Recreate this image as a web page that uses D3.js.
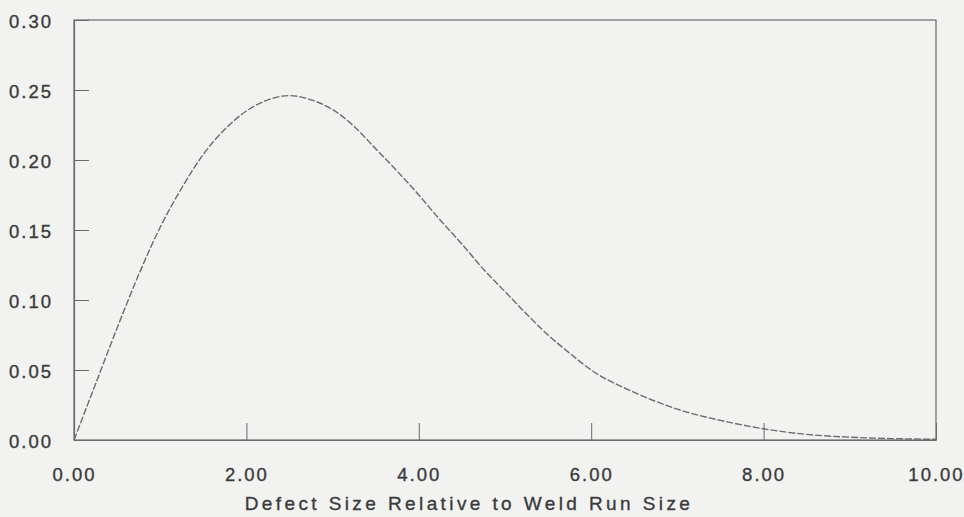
<!DOCTYPE html>
<html>
<head>
<meta charset="utf-8">
<script src="https://cdn.jsdelivr.net/npm/d3@7"></script>
<style>
  html, body { margin: 0; padding: 0; background: #f2f2f1; }
  svg { display: block; }
  text { font-family: "Liberation Sans", Arial, sans-serif; fill: #3b3b3b; stroke: #3b3b3b; stroke-width: 0.35px; }
</style>
</head>
<body>
<div id="chart"></div>
<script>
// defect size (relative to weld run size) vs probability density
const sizeValues = [0, 0.25, 0.5, 0.75, 1.0, 1.25, 1.5, 1.75, 2.0, 2.25, 2.5, 2.75, 3.0, 3.25, 3.5, 3.75,
  4.0, 4.25, 4.5, 4.75, 5.0, 5.25, 5.5, 5.75, 6.0, 6.5, 7.0, 7.5, 8.0, 8.5, 9.0, 9.5, 10.0];
const densityValues = [0, 0.04, 0.08, 0.118, 0.152, 0.18, 0.204, 0.222, 0.235, 0.243, 0.246, 0.243, 0.236, 0.224, 0.208, 0.192,
  0.175, 0.157, 0.140, 0.122, 0.106, 0.090, 0.075, 0.062, 0.050, 0.034, 0.022, 0.014, 0.008, 0.004, 0.002, 0.001, 0.0005];
const xTicks = [0, 2, 4, 6, 8, 10];
const yTicks = [0, 0.05, 0.10, 0.15, 0.20, 0.25, 0.30];
const xTitle = "Defect Size Relative to Weld Run Size";

const width = 964;
const height = 517;
const margin = { top: 20, right: 28, bottom: 77, left: 74 };

const svg = d3.select("#chart")
  .append("svg")
  .attr("width", width)
  .attr("height", height);

const x = d3.scaleLinear().domain([0, 10]).range([margin.left, width - margin.right]);
const y = d3.scaleLinear().domain([0, 0.3]).range([height - margin.bottom, margin.top]);

// frame
svg.append("rect")
  .attr("x", x(0))
  .attr("y", y(0.3))
  .attr("width", x(10) - x(0))
  .attr("height", y(0) - y(0.3))
  .attr("fill", "none")
  .attr("stroke", "#6a6a6a")
  .attr("stroke-width", 1.2);

const xAxis = svg.append("g")
  .attr("transform", `translate(0,${y(0)})`)
  .call(d3.axisBottom(x)
    .tickValues(xTicks)
    .tickSizeInner(-17)
    .tickSizeOuter(0)
    .tickPadding(28)
    .tickFormat(d3.format(".2f")));

const yAxis = svg.append("g")
  .attr("transform", `translate(${x(0)},0)`)
  .call(d3.axisLeft(y)
    .tickValues(yTicks)
    .tickSizeInner(-15)
    .tickSizeOuter(0)
    .tickPadding(21)
    .tickFormat(d3.format(".2f")));

[xAxis, yAxis].forEach((g) => {
  g.select(".domain").attr("stroke", "#6a6a6a").attr("stroke-width", 1.2);
  g.selectAll(".tick line").attr("stroke", "#6a6a6a");
  g.selectAll(".tick text")
    .attr("font-size", 18.5)
    .attr("letter-spacing", "2px")
    .attr("fill", "#3b3b3b");
});
yAxis.selectAll(".tick text").attr("dy", "0.42em");

// density curve
const points = sizeValues.map((s, i) => [s, densityValues[i]]);
svg.append("path")
  .datum(points)
  .attr("fill", "none")
  .attr("stroke", "#6c6c6c")
  .attr("stroke-width", 1.4)
  .attr("stroke-dasharray", "7,2")
  .attr("d", d3.line()
    .x((d) => x(d[0]))
    .y((d) => y(d[1]))
    .curve(d3.curveMonotoneX));

svg.append("text")
  .attr("x", 469)
  .attr("y", 510)
  .attr("text-anchor", "middle")
  .attr("font-size", 19)
  .attr("letter-spacing", "3.4px")
  .text(xTitle);
</script>
</body>
</html>
